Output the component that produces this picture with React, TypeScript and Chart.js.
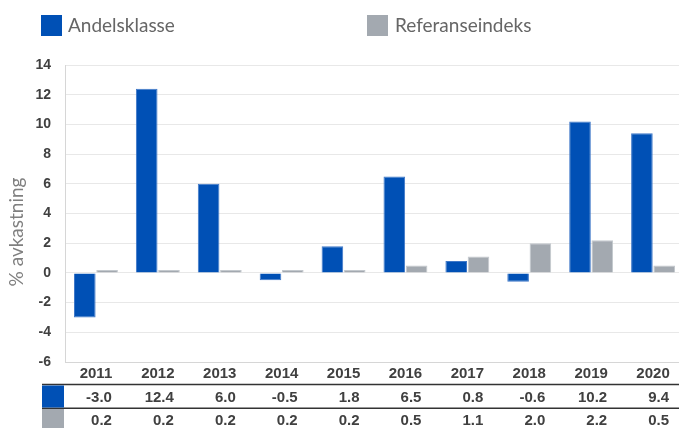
import React, { useEffect, useRef } from "react";
import { Chart, registerables } from "chart.js";

Chart.register(...registerables);

const years = ["2011", "2012", "2013", "2014", "2015", "2016", "2017", "2018", "2019", "2020"];
const andelsklasse = [-3.0, 12.4, 6.0, -0.5, 1.8, 6.5, 0.8, -0.6, 10.2, 9.4];
const referanse = [0.2, 0.2, 0.2, 0.2, 0.2, 0.5, 1.1, 2.0, 2.2, 0.5];
const seriesNames = ["Andelsklasse", "Referanseindeks"];
const yTitle = "% avkastning";

const BLUE = "#0050B5";
const GRAY = "#A3A9B0";
const TEXT = "#404040";

export default function App() {
  const ref = useRef<HTMLCanvasElement | null>(null);

  useEffect(() => {
    if (!ref.current) return;
    const extras = {
      id: "extras",
      afterDraw(chart: any) {
        const ctx = chart.ctx;
        const xs = chart.scales.x;
        ctx.save();
        // legend
        ctx.fillStyle = BLUE;
        ctx.fillRect(41, 15, 21, 21);
        ctx.fillStyle = GRAY;
        ctx.fillRect(367, 15, 21, 21);
        ctx.font = "19px Lato";
        ctx.fillStyle = "#666666";
        ctx.textAlign = "left";
        ctx.textBaseline = "middle";
        ctx.fillText(seriesNames[0], 68, 26);
        ctx.fillText(seriesNames[1], 395, 26);
        // y title
        ctx.save();
        ctx.translate(17, 232);
        ctx.rotate(-Math.PI / 2);
        ctx.textAlign = "center";
        ctx.textBaseline = "middle";
        ctx.font = "19px Lato";
        ctx.fillStyle = "#808080";
        ctx.fillText(yTitle, 0, 0);
        ctx.restore();
        // table
        ctx.strokeStyle = "#333333";
        ctx.lineWidth = 1.5;
        ctx.beginPath();
        ctx.moveTo(42, 384.5);
        ctx.lineTo(700, 384.5);
        ctx.moveTo(42, 408.2);
        ctx.lineTo(700, 408.2);
        ctx.stroke();
        ctx.fillStyle = BLUE;
        ctx.fillRect(42, 385.5, 22, 22);
        ctx.fillStyle = GRAY;
        ctx.fillRect(42, 409, 22, 19);
        ctx.font = "bold 15px 'Liberation Sans'";
        ctx.fillStyle = TEXT;
        ctx.textAlign = "right";
        ctx.textBaseline = "middle";
        years.forEach((_, i) => {
          const px = xs.getPixelForValue(i) + 16;
          ctx.fillText(andelsklasse[i].toFixed(1), px, 398);
          ctx.fillText(referanse[i].toFixed(1), px, 421);
        });
        ctx.restore();
      },
    };

    const chart = new Chart(ref.current, {
      type: "bar",
      data: {
        labels: years,
        datasets: [
          {
            label: seriesNames[0],
            data: andelsklasse,
            backgroundColor: BLUE,
            borderColor: "#3F78C8",
            borderWidth: 1,
            barPercentage: 0.97,
            categoryPercentage: 0.72,
          },
          {
            label: seriesNames[1],
            data: referanse,
            backgroundColor: GRAY,
            borderColor: "#C3C8CD",
            borderWidth: 1,
            barPercentage: 0.97,
            categoryPercentage: 0.72,
          },
        ],
      },
      options: {
        responsive: false,
        animation: false,
        devicePixelRatio: 1,
        layout: { padding: { top: 65, right: 6, left: 0, bottom: 0 } },
        plugins: { legend: { display: false }, tooltip: { enabled: false } },
        scales: {
          x: {
            grid: { display: false, drawTicks: false },
            border: { display: true, color: "#d6d6d6", width: 1 },
            ticks: {
              color: TEXT,
              font: { family: "'Liberation Sans'", size: 15, weight: "bold" },
              padding: 3,
              maxRotation: 0,
            },
            afterFit: (s: any) => {
              s.height = 66;
            },
          },
          y: {
            min: -6,
            max: 14,
            grid: { color: "#e8e8e8", drawTicks: false },
            border: { display: true, color: "#d6d6d6", width: 1 },
            ticks: {
              stepSize: 2,
              color: TEXT,
              font: { family: "'Liberation Sans'", size: 14, weight: "bold" },
              padding: 14,
            },
            afterFit: (s: any) => {
              s.width = 65;
            },
          },
        },
      },
      plugins: [extras],
    });
    return () => chart.destroy();
  }, []);

  return (
    <div
      style={{
        position: "fixed",
        left: 0,
        top: 0,
        width: 679,
        height: 428,
        overflow: "hidden",
        background: "#ffffff",
      }}
    >
      <canvas ref={ref} width={690} height={428} style={{ display: "block", width: 690, height: 428 }} />
    </div>
  );
}
